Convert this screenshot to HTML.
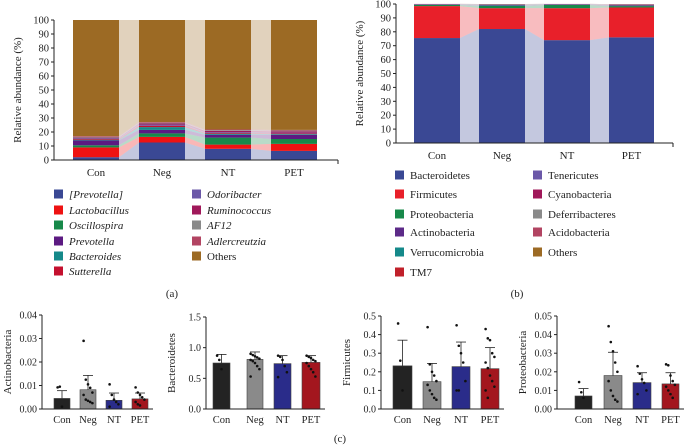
<!DOCTYPE html>
<html><head><meta charset="utf-8"><style>
body{margin:0;background:#fff;}
svg{display:block;font-family:"Liberation Serif",serif;}
</style></head><body>
<svg id="fig" width="685" height="448" viewBox="0 0 685 448"></svg>
<script>
// ---------- Data ----------
const groups = ["Con","Neg","NT","PET"];
const genusNames = ["[Prevotella]","Lactobacillus","Oscillospira","Prevotella","Bacteroides","Sutterella","Odoribacter","Ruminococcus","AF12","Adlercreutzia","Others"];
const genusColors = ["#3a4894","#ee1212","#17894a","#5c1a82","#15898a","#c4102e","#6b58a8","#a0185a","#8a8a8a","#b24462","#9c6a24"];
const genusPrevotellaB = [2,12.5,8,6.5];
const genusLacto = [7,4,3,5];
const genusOscillo = [1.5,2.5,5,3.5];
const genusPrevotella = [3.5,2.5,2,3];
const genusBacteroides = [0.5,2,0.8,0.5];
const genusSutterella = [0.5,1,0.5,0.5];
const genusOdori = [0.5,0.8,0.5,0.5];
const genusRumino = [0.5,0.8,1,1];
const genusAF12 = [0.5,0.5,0.5,0.5];
const genusAdler = [0.5,0.5,0.5,0.5];

const phylumNames = ["Bacteroidetes","Firmicutes","Proteobacteria","Actinobacteria","Verrucomicrobia","TM7","Tenericutes","Cyanobacteria","Deferribacteres","Acidobacteria","Others"];
const phylumColors = ["#3a4894","#e8202a","#17894a","#5c2a88","#15898a","#c0202a","#6b58a8","#a0185a","#8a8a8a","#b24462","#9c6a24"];
const phylBacteroidetes = [75.5,82,74,76];
const phylFirmicutes = [23,15,23,21.5];
const phylProteo = [0.8,1.6,2.3,1];
const phylActino = [0.3,0.4,0.3,0.5];
const phylVerruco = [0.1,0.5,0.1,0.2];
const phylTM7 = [0.1,0.2,0.1,0.3];
const phylTeneri = [0.1,0.1,0.1,0.2];
const phylCyano = [0.05,0.1,0.05,0.1];
const phylDeferri = [0.05,0.05,0.05,0.1];
const phylAcido = [0.05,0.05,0.05,0.05];

const actinoMean = [0.0045,0.0082,0.0037,0.0043];
const actinoSD = [0.0033,0.0061,0.0031,0.0025];
const actinoPts = [[0.0092,0.0095,0.001],[0.029,0.0125,0.0105,0.009,0.007,0.006,0.004,0.0035,0.003,0.0025],[0.0105,0.006,0.004,0.003,0.002,0.001],[0.0092,0.007,0.006,0.005,0.004,0.003,0.002,0.0015]];
const bactMean = [0.75,0.81,0.74,0.76];
const bactSD = [0.14,0.12,0.13,0.11];
const bactPts = [[0.87,0.8,0.65],[0.9,0.88,0.86,0.84,0.82,0.8,0.78,0.75,0.7,0.65,0.53],[0.87,0.85,0.8,0.7,0.6,0.52],[0.87,0.85,0.83,0.8,0.78,0.75,0.7,0.65,0.6,0.53]];
const firmMean = [0.232,0.147,0.228,0.217];
const firmSD = [0.138,0.098,0.132,0.113];
const firmPts = [[0.46,0.26,0.1],[0.44,0.24,0.2,0.18,0.15,0.13,0.1,0.08,0.06,0.05],[0.45,0.34,0.3,0.25,0.15,0.1,0.1],[0.43,0.38,0.37,0.3,0.28,0.25,0.22,0.18,0.15,0.12,0.1,0.06]];
const proteoMean = [0.007,0.018,0.0142,0.0135];
const proteoSD = [0.004,0.0125,0.0053,0.006];
const proteoPts = [[0.0145,0.009,0.006],[0.0445,0.036,0.031,0.025,0.02,0.015,0.01,0.007,0.005,0.004],[0.023,0.019,0.016,0.014,0.01,0.008],[0.024,0.0235,0.018,0.015,0.013,0.012,0.01,0.008,0.006]];

const actinoTicks = ["0.00","0.01","0.02","0.03","0.04"];
const bactTicks = ["0.0","0.5","1.0","1.5"];
const firmTicks = ["0.0","0.1","0.2","0.3","0.4","0.5"];
const proteoTicks = ["0.00","0.01","0.02","0.03","0.04","0.05"];
const pctTicks = [0,10,20,30,40,50,60,70,80,90,100];

// ---------- helpers ----------
const NS="http://www.w3.org/2000/svg";
const svg=document.getElementById('fig');
function mk(tag,attrs,parent,text){const e=document.createElementNS(NS,tag);for(const k in attrs)e.setAttribute(k,attrs[k]);if(text!==undefined)e.textContent=text;(parent||svg).appendChild(e);return e;}

function stacked(opts){
  const {x0,xEnd,y0,yTop,bars,series,colors,names,prefix}=opts;
  const g=mk('g',{});
  
  
  const ys=v=>y0-(v/100)*(y0-yTop);
  const nG=groups.length;
  const all=series.map(s=>s.slice());
  const others=[];
  for(let i=0;i<nG;i++){let t=0;series.forEach(s=>t+=s[i]);others.push(100-t);}
  all.push(others);
  const cum=[];for(let i=0;i<nG;i++){cum.push([0]);let c=0;all.forEach(s=>{c+=s[i];cum[i].push(c);});}
  for(let i=0;i<nG-1;i++){
    all.forEach((s,k)=>{
      const xa=bars[i][1],xb=bars[i+1][0];
      const p=mk('polygon',{points:`${xa},${ys(cum[i][k])} ${xb},${ys(cum[i+1][k])} ${xb},${ys(cum[i+1][k+1])} ${xa},${ys(cum[i][k+1])}`,fill:colors[k],'fill-opacity':0.3},g);
      
      
    });
  }
  for(let i=0;i<nG;i++){
    all.forEach((s,k)=>{
      const r=mk('rect',{x:bars[i][0],y:ys(cum[i][k+1]),width:bars[i][1]-bars[i][0],height:Math.max(0,ys(cum[i][k])-ys(cum[i][k+1])),fill:colors[k]},g);
      
      
    });
    const t=mk('text',{x:(bars[i][0]+bars[i][1])/2,y:y0+16,'font-size':11,'text-anchor':'middle',fill:'#222'},g,groups[i]);
    
    
  }
  mk('line',{x1:x0,y1:yTop,x2:x0,y2:y0,stroke:'#222','stroke-width':1},g);
  mk('line',{x1:x0,y1:y0,x2:xEnd,y2:y0,stroke:'#222','stroke-width':1},g);
  mk('line',{x1:xEnd,y1:y0,x2:xEnd,y2:y0+4,stroke:'#222','stroke-width':1},g);
  pctTicks.forEach(v=>{
    mk('line',{x1:x0-3,y1:ys(v),x2:x0,y2:ys(v),stroke:'#222'},g);
    const t=mk('text',{x:x0-5,y:ys(v)+3.5,'font-size':10.5,'text-anchor':'end',fill:'#222'},g,v);
    
    
  });
  const yt=mk('text',{x:0,y:0,transform:`translate(${x0-33},${(y0+yTop)/2}) rotate(-90)`,'font-size':11,'text-anchor':'middle',fill:'#222'},g,'Relative abundance (%)');
  
  
}

function legend(opts){
  const {names,colors,col1x,col2x,rows,italic,prefix}=opts;
  const n1=6;
  names.forEach((nm,i)=>{
    const c=i<n1?col1x:col2x; const y=rows[i<n1?i:i-n1];
    const g=mk('g',{});
    
    
    mk('rect',{x:c,y:y-4.5,width:9,height:9,fill:colors[i]},g);
    mk('text',{x:c+15,y:y+4,'font-size':11,'font-style':(italic&&nm!=='Others')?'italic':'normal',fill:'#222'},g,nm);
  });
}

function small(opts){
  const {ax,y0,yTop,bars,mean,sd,pts,ticks,max,title,prefix}=opts;
  const cols=["#232323","#8a8a8a","#2a2c8a","#a3161e"];
  const g=mk('g',{});
  
  
  const ys=v=>y0-(v/max)*(y0-yTop);
  bars.forEach((b,i)=>{
    const cx=(b[0]+b[1])/2;
    const r=mk('rect',{x:b[0],y:ys(mean[i]),width:b[1]-b[0],height:y0-ys(mean[i]),fill:cols[i],stroke:'#444','stroke-width':0.6},g);
    
    
    const top=ys(mean[i]+sd[i]);
    mk('line',{x1:cx,y1:ys(mean[i]),x2:cx,y2:top,stroke:'#222','stroke-width':0.8},g);
    mk('line',{x1:cx-5,y1:top,x2:cx+5,y2:top,stroke:'#222','stroke-width':0.8},g);
    pts[i].forEach((v,j)=>{
      const dx=((j%5)-2)*2.2;
      const d=mk('circle',{cx:cx+dx,cy:ys(v),r:1.3,fill:'#111'},g);
      
      
    });
    const t=mk('text',{x:cx,y:y0+14,'font-size':10.5,'text-anchor':'middle',fill:'#222'},g,groups[i]);
    
    
  });
  mk('line',{x1:ax,y1:yTop,x2:ax,y2:y0,stroke:'#222'},g);
  mk('line',{x1:ax,y1:y0,x2:bars[3][1]+5,y2:y0,stroke:'#222'},g);
  ticks.forEach((tl,i)=>{
    const v=max*i/(ticks.length-1);
    mk('line',{x1:ax-3,y1:ys(v),x2:ax,y2:ys(v),stroke:'#222'},g);
    const t=mk('text',{x:ax-5,y:ys(v)+3.5,'font-size':10,'text-anchor':'end',fill:'#222'},g,tl);
    
    
  });
  const yt=mk('text',{x:0,y:0,transform:`translate(${ax-31},${(y0+yTop)/2}) rotate(-90)`,'font-size':11,'text-anchor':'middle',fill:'#222'},g,title);
  
  
}

// ---------- Panel a ----------
stacked({x0:54,xEnd:338,y0:160,yTop:20,prefix:'genus',
  bars:[[73,119],[139,185],[205,251],[271,317]],
  series:[genusPrevotellaB,genusLacto,genusOscillo,genusPrevotella,genusBacteroides,genusSutterella,genusOdori,genusRumino,genusAF12,genusAdler],
  colors:genusColors,names:genusNames});
legend({names:genusNames,colors:genusColors,col1x:54,col2x:192,rows:[194,210,225,241,256,271],italic:true,prefix:'genus'});
let lbl=mk('text',{x:172,y:297,'font-size':11,'text-anchor':'middle',fill:'#222'},svg,'(a)');


// ---------- Panel b ----------
stacked({x0:396,xEnd:673,y0:143,yTop:4,prefix:'phylum',
  bars:[[414,460],[479,525],[544,590],[609,654]],
  series:[phylBacteroidetes,phylFirmicutes,phylProteo,phylActino,phylVerruco,phylTM7,phylTeneri,phylCyano,phylDeferri,phylAcido],
  colors:phylumColors,names:phylumNames});
legend({names:phylumNames,colors:phylumColors,col1x:395,col2x:533,rows:[175,194,214,232,252,272],italic:false,prefix:'phylum'});
lbl=mk('text',{x:517,y:297,'font-size':11,'text-anchor':'middle',fill:'#222'},svg,'(b)');


// ---------- Panel c ----------
small({ax:42,y0:409,yTop:315,bars:[[54,70],[80,96],[106,122],[132,148]],mean:actinoMean,sd:actinoSD,pts:actinoPts,ticks:actinoTicks,max:0.04,title:'Actinobacteria',prefix:'actinobacteria'});
small({ax:206,y0:409,yTop:317,bars:[[213,230],[247,263],[274,291],[302,320]],mean:bactMean,sd:bactSD,pts:bactPts,ticks:bactTicks,max:1.5,title:'Bacteroidetes',prefix:'bacteroidetes'});
small({ax:381,y0:409,yTop:316,bars:[[393,412],[423,441],[452,470],[481,499]],mean:firmMean,sd:firmSD,pts:firmPts,ticks:firmTicks,max:0.5,title:'Firmicutes',prefix:'firmicutes'});
small({ax:557,y0:409,yTop:316,bars:[[575,592],[604,622],[633,651],[662,679]],mean:proteoMean,sd:proteoSD,pts:proteoPts,ticks:proteoTicks,max:0.05,title:'Proteobacteria',prefix:'proteobacteria'});
lbl=mk('text',{x:340,y:442,'font-size':11,'text-anchor':'middle',fill:'#222'},svg,'(c)');

</script>
</body></html>
